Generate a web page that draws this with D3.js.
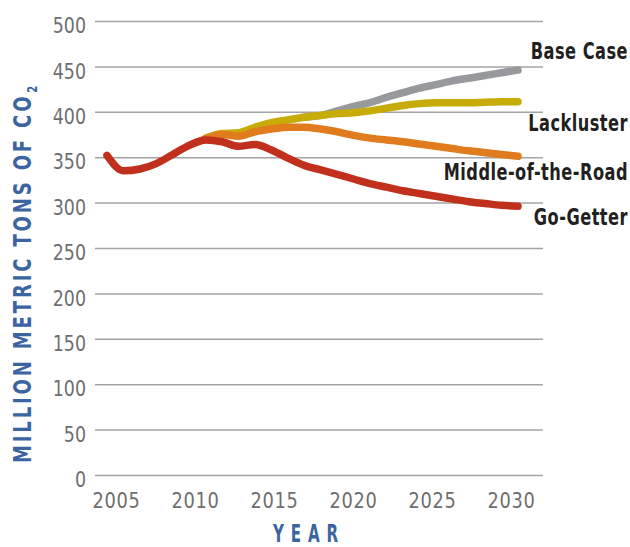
<!DOCTYPE html>
<html>
<head>
<meta charset="utf-8">
<script src="https://cdn.jsdelivr.net/npm/d3@7"></script>
<style>
  html, body { margin: 0; padding: 0; background: #ffffff; }
  svg { display: block; }
</style>
</head>
<body>
<div id="chart"></div>
<script>
// ---------- data ----------
const years = [2005, 2006, 2007, 2008, 2009, 2010, 2011, 2012, 2013, 2014, 2015, 2016, 2017,
               2018, 2019, 2020, 2021, 2022, 2023, 2024, 2025, 2026, 2027, 2028, 2029, 2030];
const baseCase = [352, 335, 337, 343, 353, 363, 371, 376, 377, 383, 388, 391, 394,
                  396, 401, 406, 410, 416, 421, 426, 430, 434, 437, 440, 443, 446];
const lackluster = [352, 335, 337, 343, 353, 363, 371, 376, 377, 383, 388, 391, 394,
                    396, 398, 399, 401, 404, 407, 409, 410, 410, 410, 410.5, 411, 411];
const middleOfTheRoad = [352, 335, 337, 343, 353, 363, 370, 375, 373, 378, 381, 383, 383,
                         381, 378, 374, 371, 369, 367, 364.5, 362, 359.5, 357, 355, 353, 351];
const goGetter = [352, 335, 337, 343, 353, 363, 369, 367, 362, 364, 358, 349, 341,
                  336, 331, 326, 321, 317, 313, 310, 307, 304, 301, 299, 297, 296];
const seriesNames = ["Base Case", "Lackluster", "Middle-of-the-Road", "Go-Getter"];
const yTicks = [0, 50, 100, 150, 200, 250, 300, 350, 400, 450, 500];
const xTicks = [2005, 2010, 2015, 2020, 2025, 2030];
const yTitle = "MILLION METRIC TONS OF CO";
const yTitleSub = "2";
const xTitle = "YEAR";

// ---------- styles / layout ----------
const W = 630, H = 547;
const colors = ["#98999d", "#c7ab07", "#e07c1d", "#c0301c"];
const labelDy = [-11, 29.5, 23.5, 18.5];
const drawFrom = [2017, 2011, 2010, 2005];   // where each scenario leaves the shared history
const narrow = "'Liberation Sans Narrow', 'Arial Narrow', 'DejaVu Sans Condensed', sans-serif";

const seriesValues = [baseCase, lackluster, middleOfTheRoad, goGetter];
const series = seriesNames.map((name, i) => ({
  name, color: colors[i], dy: labelDy[i], from: drawFrom[i],
  values: years.map((yr, j) => ({ year: yr, value: seriesValues[i][j] }))
}));

const svg = d3.select("#chart").append("svg").attr("width", W).attr("height", H);

const x = d3.scaleLinear().domain([2005, 2030]).range([107, 518]);
const xLabel = d3.scaleLinear().domain([2005, 2030]).range([116, 511]);
const y = d3.scaleLinear().domain([0, 500]).range([475, 21]);

// gridlines + y labels
const yAxis = d3.axisLeft(y).tickValues(yTicks).tickSize(-448).tickPadding(9).tickFormat(d3.format("d"));
const gy = svg.append("g").attr("transform", "translate(543,0)").call(yAxis);
gy.select(".domain").remove();
gy.selectAll(".tick line").attr("stroke", "#a3a3a3").attr("stroke-width", 1.5)
  .attr("x1", -448).attr("x2", 0);
gy.selectAll(".tick text")
  .attr("x", 0)
  .attr("dy", "0.53em")
  .attr("transform", "translate(-457,0) scale(0.88,1)")
  .attr("text-anchor", "end")
  .attr("fill", "#6e6e6e")
  .style("font-family", narrow)
  .style("font-size", "22px");

// x labels
const xAxis = d3.axisBottom(xLabel).tickValues(xTicks).tickSize(0).tickPadding(0).tickFormat(d3.format("d"));
const gx = svg.append("g").attr("transform", "translate(0,508)").call(xAxis);
gx.select(".domain").remove();
gx.selectAll(".tick text")
  .attr("y", 0).attr("dy", 0)
  .attr("transform", "scale(0.9,1)")
  .attr("fill", "#6e6e6e")
  .style("font-family", narrow)
  .style("font-size", "22px")
  .style("letter-spacing", "0.8px");

// lines
const line = d3.line()
  .defined(d => d.year >= d.from)
  .x(d => x(d.year)).y(d => y(d.value))
  .curve(d3.curveMonotoneX);
svg.append("g").selectAll("path").data(series).join("path")
  .attr("d", s => line(s.values.map(v => ({ ...v, from: s.from }))))
  .attr("fill", "none")
  .attr("stroke", d => d.color)
  .attr("stroke-width", 7.5)
  .attr("stroke-linecap", "round")
  .attr("stroke-linejoin", "round");

// series labels
svg.append("g").selectAll("text").data(series).join("text")
  .attr("transform", d => `translate(628,${y(d.values[d.values.length - 1].value) + d.dy}) scale(0.8,1)`)
  .attr("text-anchor", "end")
  .attr("fill", "#231f20")
  .style("font-family", narrow)
  .style("font-weight", "bold")
  .style("font-size", "22.5px")
  .style("letter-spacing", "0.6px")
  .text(d => d.name);

// y title
const yt = svg.append("text")
  .attr("transform", "translate(30.5,463) rotate(-90) scale(0.8,1)")
  .attr("fill", "#3b64a0")
  .style("font-family", narrow)
  .style("font-weight", "bold")
  .style("font-size", "25px")
  .style("letter-spacing", "3.6px");
yt.append("tspan").text(yTitle);
yt.append("tspan").attr("dx", 1).attr("dy", 6).style("font-size", "14px").style("letter-spacing", "0px").text(yTitleSub);

// x title
svg.append("text")
  .attr("transform", "translate(273,542) scale(0.7,1)")
  .attr("fill", "#3b64a0")
  .style("font-family", narrow)
  .style("font-weight", "bold")
  .style("font-size", "24px")
  .attr("textLength", 93)
  .attr("lengthAdjust", "spacing")
  .text(xTitle);
</script>
</body>
</html>
